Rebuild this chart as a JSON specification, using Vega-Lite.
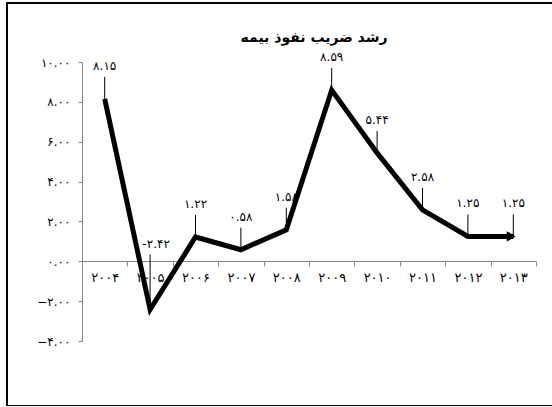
{
  "$schema": "https://vega.github.io/schema/vega-lite/v6.json",
  "width": 546,
  "height": 403,
  "autosize": {"type": "none"},
  "padding": {"left": 7, "top": 3, "right": 0, "bottom": 0},
  "background": "white",
  "config": {
    "view": {"stroke": "black", "strokeWidth": 2},
    "font": "DejaVu Sans"
  },
  "title": {
    "text": "رشد ضریب نفوذ بیمه",
    "fontSize": 14,
    "fontWeight": "bold",
    "color": "black",
    "frame": "group",
    "anchor": "middle",
    "baseline": "middle",
    "offset": -49,
    "dx": 34
  },
  "data": {
    "values": [
      {"year": "۲۰۰۴", "value": 8.15, "label": "۸.۱۵"},
      {"year": "۲۰۰۵", "value": -2.42, "label": "-۲.۴۲"},
      {"year": "۲۰۰۶", "value": 1.22, "label": "۱.۲۲"},
      {"year": "۲۰۰۷", "value": 0.58, "label": "۰.۵۸"},
      {"year": "۲۰۰۸", "value": 1.58, "label": "۱.۵۸"},
      {"year": "۲۰۰۹", "value": 8.59, "label": "۸.۵۹"},
      {"year": "۲۰۱۰", "value": 5.44, "label": "۵.۴۴"},
      {"year": "۲۰۱۱", "value": 2.58, "label": "۲.۵۸"},
      {"year": "۲۰۱۲", "value": 1.25, "label": "۱.۲۵"},
      {"year": "۲۰۱۳", "value": 1.25, "label": "۱.۲۵"}
    ]
  },
  "encoding": {
    "x": {
      "field": "year",
      "type": "ordinal",
      "sort": ["۲۰۰۴", "۲۰۰۵", "۲۰۰۶", "۲۰۰۷", "۲۰۰۸", "۲۰۰۹", "۲۰۱۰", "۲۰۱۱", "۲۰۱۲", "۲۰۱۳"],
      "scale": {"type": "band", "range": [75, 529], "paddingInner": 0, "paddingOuter": 0},
      "axis": {
        "title": null,
        "offset": -145,
        "grid": false,
        "domainColor": "#868686",
        "tickColor": "#868686",
        "tickSize": 5,
        "tickBand": "extent",
        "labelAngle": 0,
        "labelFontSize": 13,
        "labelColor": "black",
        "labelPadding": 5
      }
    },
    "y": {
      "field": "value",
      "type": "quantitative",
      "scale": {"domain": [-4, 10], "range": [338, 59], "nice": false, "zero": false},
      "axis": {
        "title": null,
        "offset": -75,
        "grid": false,
        "values": [-4, -2, 0, 2, 4, 6, 8, 10],
        "domainColor": "#868686",
        "tickColor": "#868686",
        "tickSize": 4,
        "labelPadding": 8,
        "labelFontSize": 12,
        "labelColor": "black",
        "labelExpr": "replace(replace(replace(replace(replace(replace(format(datum.value,'.2f'),regexp('0','g'),'۰'),regexp('1','g'),'۱'),regexp('2','g'),'۲'),regexp('4','g'),'۴'),regexp('6','g'),'۶'),regexp('8','g'),'۸')"
      }
    }
  },
  "layer": [
    {
      "transform": [{"filter": "datum.value >= 0"}],
      "mark": {"type": "rule", "color": "black", "strokeWidth": 1, "y2Offset": -22},
      "encoding": {"y2": {"field": "value"}}
    },
    {
      "transform": [{"filter": "datum.value < 0"}],
      "mark": {"type": "rule", "color": "black", "strokeWidth": 1, "y2Offset": -55},
      "encoding": {"y2": {"field": "value"}}
    },
    {
      "mark": {"type": "line", "color": "black", "strokeWidth": 5, "strokeJoin": "miter"}
    },
    {
      "transform": [{"filter": "datum.year == '۲۰۱۳'"}],
      "mark": {"type": "point", "shape": "triangle-right", "filled": true, "color": "black", "opacity": 1, "size": 110, "xOffset": -2}
    },
    {
      "transform": [{"filter": "datum.value >= 0"}],
      "mark": {"type": "text", "color": "black", "fontSize": 12, "baseline": "middle", "dy": -33},
      "encoding": {"text": {"field": "label"}}
    },
    {
      "transform": [{"filter": "datum.value < 0"}],
      "mark": {"type": "text", "color": "black", "fontSize": 12, "baseline": "middle", "dy": -66, "dx": 6},
      "encoding": {"text": {"field": "label"}}
    }
  ]
}
